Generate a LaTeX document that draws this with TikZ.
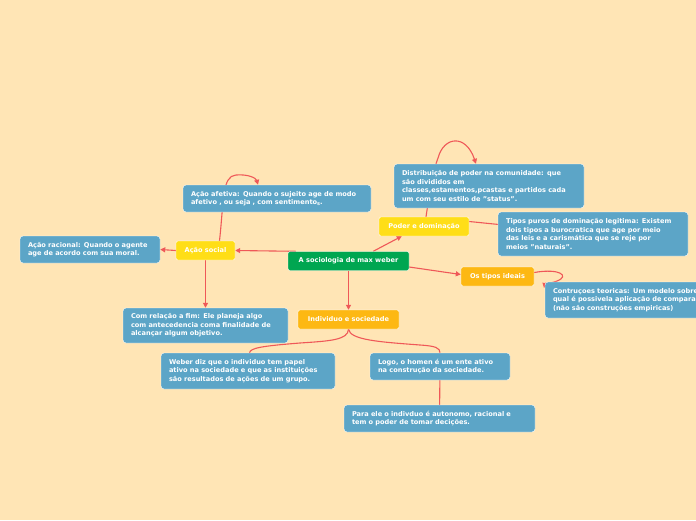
\documentclass[tikz,border=0pt]{standalone}
\usepackage{fontspec}
\setmainfont{DejaVu Sans}
\usepackage{tikz}
\usetikzlibrary{positioning, arrows.meta, backgrounds}
\definecolor{paper}{RGB}{255,229,181}
\definecolor{hubgreen}{RGB}{0,166,81}
\definecolor{topicyellow}{RGB}{255,222,23}
\definecolor{topicamber}{RGB}{253,184,19}
\definecolor{noteblue}{RGB}{92,165,199}
\definecolor{linkred}{RGB}{239,88,88}
\pgfdeclarelayer{paperlayer}
\pgfsetlayers{paperlayer,background,main}

\begin{document}
\begin{tikzpicture}[x=1pt, y=-1pt,
  hubnode/.style={rectangle, rounded corners=2pt, draw=white, fill=hubgreen, text=white,
                  font=\fontsize{6.6}{8.5}\selectfont\bfseries, minimum height=19pt, inner xsep=6pt},
  yellowtopic/.style={hubnode, fill=topicyellow},
  ambertopic/.style={hubnode, fill=topicamber},
  note/.style={rectangle, rounded corners=3pt, draw=white, fill=noteblue, text=white,
               font=\fontsize{6.6}{8.5}\selectfont\bfseries, align=left, inner xsep=8pt, inner ysep=4pt},
  link/.style={-{Triangle[length=5pt, width=5pt]}, color=linkred, line width=1.1pt},
  plainlink/.style={color=linkred, line width=1.1pt},
]
  % Page
  \begin{pgfonlayer}{paperlayer}
    \fill[paper] (0,0) rectangle (696,520);
  \end{pgfonlayer}
  \useasboundingbox (0,0) rectangle (696,520);

  % Centre and main topics
  \node[hubnode, minimum width=121pt] (hub) at (348.5,261) {A sociologia de max weber};
  \node[yellowtopic, minimum width=59pt] (social) at (205.5,250.5) {Ação social};
  \node[yellowtopic, minimum width=90pt] (poder) at (424,226.5) {Poder e dominação};
  \node[ambertopic, minimum width=73pt] (ideais) at (497.5,276.5) {Os tipos ideais};
  \node[ambertopic, minimum width=101pt] (indiv) at (348.5,319.5) {Individuo e sociedade};

  % Notes
  \node[note, text width=172pt, minimum height=27pt] (afetiva) at (277,198.5)
    {Ação afetiva: Quando o sujeito age de modo\\afetivo , ou seja , com sentimento\raisebox{-1pt}{\fontsize{5}{5}\selectfont s}.};
  \node[note, text width=124pt, minimum height=27pt] (racional) at (90,249.5)
    {Ação racional: Quando o agente\\age de acordo com sua moral.};
  \node[note, text width=149pt, minimum height=35pt] (fim) at (205.5,325.5)
    {Com relação a fim: Ele planeja algo\\com antecedencia coma finalidade de\\alcançar algum objetivo.};
  \node[note, text width=174pt, minimum height=44pt] (distrib) at (489,186)
    {Distribuição de poder na comunidade: que\\são divididos em\\classes,estamentos,pcastas e partidos cada\\um com seu estilo de "status".};
  \node[note, text width=174pt, minimum height=44pt] (puros) at (593,234)
    {Tipos puros de dominação legitima: Existem\\dois tipos a burocratica que age por meio\\das leis e a carismática que se reje por\\meios "naturais".};
  \node[note, text width=200pt, minimum height=36pt] (teoricas) at (653,300)
    {Contruçoes teoricas: Um modelo sobre o\\qual é possivela aplicação de comparação\\(não são construções empiricas)};
  \node[note, text width=158pt, minimum height=36pt] (weber) at (248,371)
    {Weber diz que o individuo tem papel\\ativo na sociedade e que as instituições\\são resultados de ações de um grupo.};
  \node[note, text width=124pt, minimum height=27pt] (homem) at (440,366.5)
    {Logo, o homen é um ente ativo\\na construção da sociedade.};
  \node[note, text width=175pt, minimum height=27pt] (autonomo) at (439.5,418.5)
    {Para ele o indivduo é autonomo, racional e\\tem o poder de tomar decições.};

  % Connectors behind the boxes
  \begin{scope}[on background layer]
    \draw[link] ([xshift=8pt]hub.north west) -- (social.east);
    \draw[link] ([xshift=-36pt]hub.north east) -- ([xshift=23pt]poder.south west);
    \draw[link] ([yshift=-6pt]hub.east) -- ([yshift=2pt]ideais.west);
    \draw[link] (hub.south) -- (indiv.north);

    \draw[link] (social.west) -- (racional.east);
    \draw[link] (social.south) -- (fim.north);
    \draw[link] ([xshift=14pt]social.north) .. controls (224,200) and (222,176) .. (236,175)
      .. controls (248,174) and (256,178) .. ([xshift=-19pt]afetiva.north);

    \draw[link] ([xshift=2pt]poder.north) .. controls (430,190) and (434,168) .. (438,158)
      .. controls (444,136) and (466,134) .. ([xshift=-13pt]distrib.north);
    \draw[plainlink] ([yshift=5pt]poder.east) -- (puros);

    \draw[link] ([yshift=4pt]ideais.east) .. controls (560,268) and (570,276) .. (557,281)
      .. controls (549,284) and (545,283) .. (544,288);

    \draw[plainlink] (indiv.south) .. controls (348,340) and (330,341) .. (300,343)
      .. controls (262,346) and (250,348) .. (weber);
    \draw[plainlink] (indiv.south) .. controls (350,340) and (380,342) .. (420,345)
      .. controls (436,346) and (440,348) .. (homem);
    \draw[plainlink] (homem) -- (autonomo);
  \end{scope}
\end{tikzpicture}
\end{document}
